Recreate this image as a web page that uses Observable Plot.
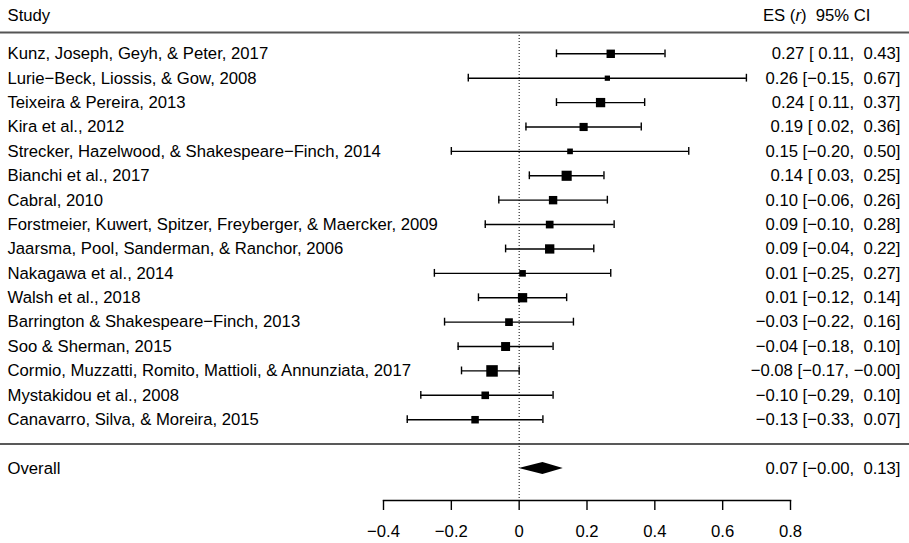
<!DOCTYPE html>
<html>
<head>
<meta charset="utf-8">
<script src="https://cdn.jsdelivr.net/npm/d3@7"></script>
<script src="https://cdn.jsdelivr.net/npm/@observablehq/plot@0.6"></script>
<style>
  body { margin: 0; background: #fff; }
  #chart svg { display: block; }
</style>
</head>
<body>
<div id="chart"></div>
<script>
// Study-level correlations (ES = r) with 95% confidence intervals
const studies = [
  "Kunz, Joseph, Geyh, & Peter, 2017",
  "Lurie\u2212Beck, Liossis, & Gow, 2008",
  "Teixeira & Pereira, 2013",
  "Kira et al., 2012",
  "Strecker, Hazelwood, & Shakespeare\u2212Finch, 2014",
  "Bianchi et al., 2017",
  "Cabral, 2010",
  "Forstmeier, Kuwert, Spitzer, Freyberger, & Maercker, 2009",
  "Jaarsma, Pool, Sanderman, & Ranchor, 2006",
  "Nakagawa et al., 2014",
  "Walsh et al., 2018",
  "Barrington & Shakespeare\u2212Finch, 2013",
  "Soo & Sherman, 2015",
  "Cormio, Muzzatti, Romito, Mattioli, & Annunziata, 2017",
  "Mystakidou et al., 2008",
  "Canavarro, Silva, & Moreira, 2015"
];
const estimates = [0.27, 0.26, 0.24, 0.19, 0.15, 0.14, 0.10, 0.09, 0.09, 0.01, 0.01, -0.03, -0.04, -0.08, -0.10, -0.13];
const lower     = [0.11, -0.15, 0.11, 0.02, -0.20, 0.03, -0.06, -0.10, -0.04, -0.25, -0.12, -0.22, -0.18, -0.17, -0.29, -0.33];
const upper     = [0.43, 0.67, 0.37, 0.36, 0.50, 0.25, 0.26, 0.28, 0.22, 0.27, 0.14, 0.16, 0.10, -0, 0.10, 0.07];

// Pooled random-effects estimate
const overallLabel = "Overall";
const overallEstimate = 0.07;
const overallLower = -0;
const overallUpper = 0.13;

const xTicks = [-0.4, -0.2, 0, 0.2, 0.4, 0.6, 0.8];
const headerLeft = "Study";
const headerRight = "ES (r)  95% CI";

// Layout
const W = 909, H = 543;
const ML = 383, MR = 119, MT = 32, MB = 43;
const xDomain = [-0.4, 0.8];
const unitsPerPx = (xDomain[1] - xDomain[0]) / (W - ML - MR);
const xLeftEdge = xDomain[0] - ML * unitsPerPx;
const xRightEdge = xDomain[1] + MR * unitsPerPx;
const rowPx = (468 - 53.3) / 17;
const cap = 3.9 / rowPx;          // half-height of CI end caps, in rows
const diamondHalf = 5.9 / rowPx;  // half-height of the summary diamond, in rows
const headerRow = 16 + (53.3 - 15) / rowPx;
const headerRuleRow = 16 + (53.3 - 32) / rowPx;
const font = "'Liberation Sans', Arial, Helvetica, sans-serif";
const fs = 16.7;

const sgn = v => (v < 0 || Object.is(v, -0));
const fmtEst = v => (sgn(v) ? "\u2212" : "") + Math.abs(v).toFixed(2);
const fmtCI = v => (sgn(v) ? "\u2212" : "\u00a0") + Math.abs(v).toFixed(2);
const ciText = (e, l, u) => `${fmtEst(e)} [${fmtCI(l)}, ${fmtCI(u)}]`;

const k = studies.length;
const rows = studies.map((label, i) => ({
  label,
  row: k - i,
  est: estimates[i],
  lb: lower[i],
  ub: upper[i],
  prec: 3.92 / (upper[i] - lower[i]),
  ci: ciText(estimates[i], lower[i], upper[i])
}));
const summary = [{label: overallLabel, row: -1, ci: ciText(overallEstimate, overallLower, overallUpper)}];
const diamond = [
  {x: overallLower, y1: -1, y2: -1},
  {x: overallEstimate, y1: -1 - diamondHalf, y2: -1 + diamondHalf},
  {x: overallUpper, y1: -1, y2: -1}
];
const maxPrec = d3.max(rows, d => d.prec);
const tickFormat = d => d === 0 ? "0" : (d < 0 ? "\u2212" : "") + Math.abs(d).toFixed(1);

const plot = Plot.plot({
  width: W,
  height: H,
  marginLeft: ML,
  marginRight: MR,
  marginTop: MT,
  marginBottom: MB,
  style: {fontFamily: font, fontSize: fs + "px", color: "#000", background: "#fff", overflow: "visible"},
  x: {domain: xDomain},
  y: {domain: [-1, 16], range: [468, 53.3], axis: null},
  r: {type: "sqrt", domain: [0, maxPrec], range: [0, 6.5]},
  marks: [
    Plot.ruleX([0], {stroke: "#000", strokeWidth: 1, strokeDasharray: "1,2"}),
    Plot.ruleY([headerRuleRow], {x1: xLeftEdge, x2: xRightEdge, stroke: "#555", strokeWidth: 2}),
    Plot.ruleY([0], {x1: xLeftEdge, x2: xRightEdge, stroke: "#222", strokeWidth: 1.5}),
    Plot.frame({anchor: "bottom", stroke: "#000", strokeWidth: 1.4}),
    Plot.axisX({ticks: xTicks, tickFormat, tickSize: 10, tickPadding: 15, strokeWidth: 1.4, fontSize: fs, label: null}),
    Plot.ruleY(rows, {y: "row", x1: "lb", x2: "ub", stroke: "#000", strokeWidth: 1.4}),
    Plot.ruleX(rows, {x: "lb", y1: d => d.row - cap, y2: d => d.row + cap, stroke: "#000", strokeWidth: 1.4}),
    Plot.ruleX(rows, {x: "ub", y1: d => d.row - cap, y2: d => d.row + cap, stroke: "#000", strokeWidth: 1.4}),
    Plot.dot(rows, {x: "est", y: "row", r: "prec", symbol: "square", fill: "#000", stroke: null}),
    Plot.areaY(diamond, {x: "x", y1: "y1", y2: "y2", fill: "#000", curve: "linear"}),
    Plot.text(rows.concat(summary), {y: "row", text: "label", frameAnchor: "left", dx: 7 - ML, textAnchor: "start", lineAnchor: "middle", fill: "#000"}),
    Plot.text(rows.concat(summary), {y: "row", text: "ci", frameAnchor: "right", dx: 900 - (W - MR), textAnchor: "end", lineAnchor: "middle", fill: "#000"}),
    Plot.text([headerLeft], {y: [headerRow], text: d => d, frameAnchor: "left", dx: 7 - ML, textAnchor: "start", lineAnchor: "middle", fill: "#000"}),
    Plot.text([headerRight], {y: [headerRow], text: d => d, frameAnchor: "right", dx: 870 - (W - MR), textAnchor: "end", lineAnchor: "middle", fill: "#000"})
  ]
});

// Italicise the "r" in the effect-size column header
d3.select(plot).selectAll("text").filter(function() { return this.textContent === headerRight; })
  .each(function() {
    const t = d3.select(this);
    t.text(null);
    t.append("tspan").text("ES (");
    t.append("tspan").attr("font-style", "italic").text("r");
    t.append("tspan").text(")\u00a0\u00a095% CI");
  });

document.getElementById("chart").appendChild(plot);
</script>
</body>
</html>
